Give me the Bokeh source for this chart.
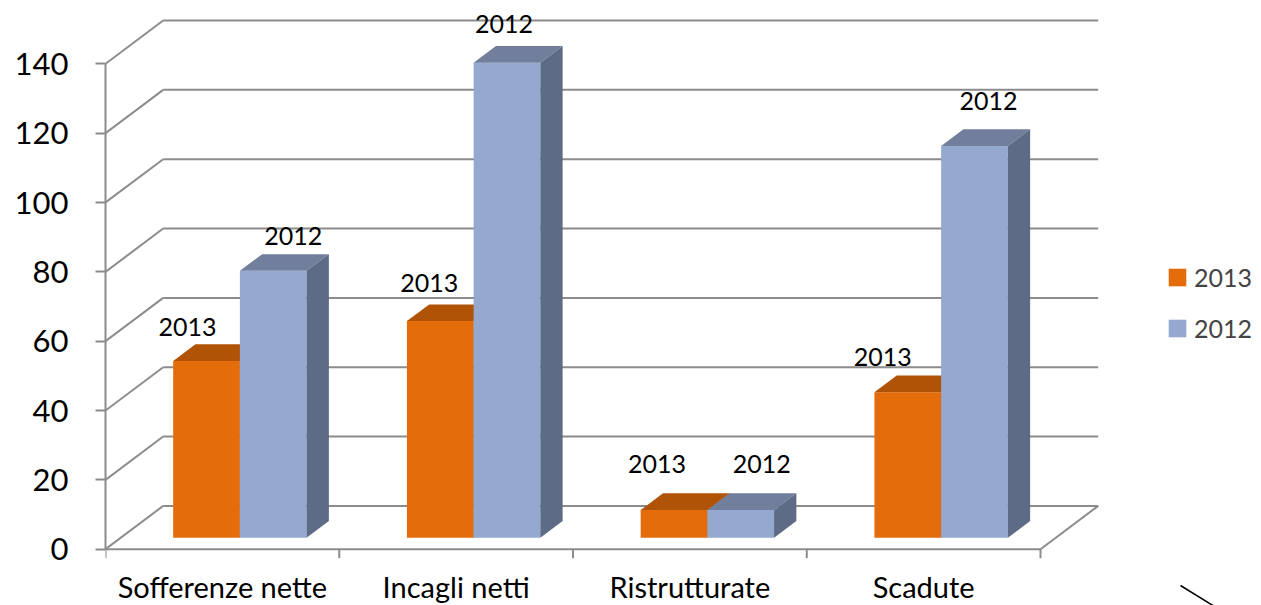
from bokeh.plotting import figure
from bokeh.models import Range1d, LinearAxis, FixedTicker, Legend, LegendItem, ColumnDataSource
from bokeh.core.properties import value
from bokeh.embed import file_html
from bokeh.resources import INLINE
import numpy as np

# ---------------- data ----------------
categories = ["Sofferenze nette", "Incagli netti", "Ristrutturate", "Scadute"]
series_names = ["2013", "2012"]
values_2013 = [51, 62.5, 8, 42]
values_2012 = [77, 137, 8, 113]
y_ticks = [0, 20, 40, 60, 80, 100, 120, 140]

# ---------------- layout / style ----------------
W, H = 1261, 605
LEFT = 105           # frame left (px)
CAT_PX = 233.75      # px per category
Y_PX = 3.467         # px per value unit
ZERO_PX = 548.7      # px from top of figure where value 0 sits
FONT = "Lato"
GRID_COLOR = "#8c8c8c"

# 3D wall depth (in data units)
DX = 57.7 / CAT_PX
DY = 43.3 / Y_PX
# bar geometry
BAR_W = 66.7 / CAT_PX
BAR_SHIFT = 17.5 / CAT_PX
BASE = 11.4 / Y_PX
BDX = 22.3 / CAT_PX
BDY = 16.7 / Y_PX

FRONT = ["#E46C0A", "#95A9D0"]
TOP = ["#B05306", "#717F9D"]
SIDE = ["#9A4808", "#5D6B86"]

# label nudges (px) for the data labels: x offset, baseline offset above top
label_dx = [[-19, -11, -17, -25], [20, -3, 21, 14]]
label_dy = [[-34, -38, -45.6, -35.3], [-34.7, -38.6, -46, -44.7]]

n = len(categories)
x_end = (W - LEFT) / CAT_PX
y_start = -(H - ZERO_PX) / Y_PX
y_end = ZERO_PX / Y_PX

p = figure(width=W, height=H, output_backend="svg", toolbar_location=None,
           x_axis_type=None, y_axis_type=None,
           x_range=Range1d(0, x_end), y_range=Range1d(y_start, y_end),
           min_border_left=LEFT, min_border_right=0, min_border_top=0, min_border_bottom=0)
p.outline_line_color = None
p.background_fill_color = "white"
p.border_fill_color = "white"

# y axis
yax = LinearAxis(ticker=FixedTicker(ticks=y_ticks), bounds=(0, max(y_ticks)))
yax.axis_line_color = GRID_COLOR
yax.axis_line_width = 2
yax.major_tick_line_color = GRID_COLOR
yax.major_tick_line_width = 2
yax.major_tick_out = 10
yax.major_tick_in = 0
yax.minor_tick_line_color = None
yax.major_label_standoff = 27
yax.major_label_text_font = FONT
yax.major_label_text_font_size = "31px"
yax.major_label_text_color = "black"
p.add_layout(yax, "left")

yt = np.array(y_ticks, dtype=float)
# back wall gridlines
p.segment(x0=np.full_like(yt, DX), y0=yt + DY, x1=np.full_like(yt, n + DX), y1=yt + DY,
          line_color=GRID_COLOR, line_width=2)
# left side wall diagonals
p.segment(x0=np.zeros_like(yt), y0=yt, x1=np.full_like(yt, DX), y1=yt + DY,
          line_color=GRID_COLOR, line_width=2)
# floor front and right edges
p.segment(x0=[0, n], y0=[0, 0], x1=[n, n + DX], y1=[0, DY], line_color=GRID_COLOR, line_width=2)
# category ticks
cx = np.arange(n + 1, dtype=float)
p.segment(x0=cx, y0=np.zeros_like(cx), x1=cx, y1=np.full_like(cx, -9 / Y_PX),
          line_color=GRID_COLOR, line_width=2)

# bars
front_renderers = []
for s, vals in enumerate([values_2013, values_2012]):
    v = np.array(vals, dtype=float)
    left = np.arange(n) + 0.5 + BAR_SHIFT - BAR_W + s * BAR_W
    right = left + BAR_W
    top = BASE + v
    fr = p.quad(left=left, right=right, bottom=np.full(n, BASE), top=top,
                fill_color=FRONT[s], line_color=None)
    front_renderers.append(fr)
    top_xs = [[l, r, r + BDX, l + BDX] for l, r in zip(left, right)]
    top_ys = [[t, t, t + BDY, t + BDY] for t in top]
    p.patches(xs=top_xs, ys=top_ys, fill_color=TOP[s], line_color=None)
    side_xs = [[r, r, r + BDX, r + BDX] for r in right]
    side_ys = [[BASE, t, t + BDY, BASE + BDY] for t in top]
    p.patches(xs=side_xs, ys=side_ys, fill_color=SIDE[s], line_color=None)

# data labels
for s, vals in enumerate([values_2013, values_2012]):
    v = np.array(vals, dtype=float)
    left = np.arange(n) + 0.5 + BAR_SHIFT - BAR_W + s * BAR_W
    src = ColumnDataSource(dict(x=left + BAR_W / 2, y=BASE + v, t=[series_names[s]] * n,
                                dx=label_dx[s], dy=label_dy[s]))
    p.text(x="x", y="y", text="t", x_offset="dx", y_offset="dy", source=src,
           text_font=value(FONT), text_font_size="25px", text_color="black",
           text_align="center", text_baseline="alphabetic")

# category labels
csrc = ColumnDataSource(dict(x=np.arange(n) + 0.5, y=np.zeros(n), t=categories))
p.text(x="x", y="y", text="t", source=csrc, y_offset=37,
       text_font=value(FONT), text_font_size="29px", text_color="black",
       text_align="center", text_baseline="alphabetic")

# stray diagonal stroke in the lower right corner
p.segment(x0=[(1180 - LEFT) / CAT_PX], y0=[(ZERO_PX - 585) / Y_PX],
          x1=[(1214 - LEFT) / CAT_PX], y1=[(ZERO_PX - 606) / Y_PX],
          line_color="black", line_width=1.5)

legend = Legend(items=[LegendItem(label=series_names[0], renderers=[front_renderers[0]]),
                       LegendItem(label=series_names[1], renderers=[front_renderers[1]])],
                location=(1061, 262), orientation="vertical")
legend.glyph_width = 22
legend.glyph_height = 22
legend.label_text_font = FONT
legend.label_text_font_size = "25px"
legend.label_standoff = 6
legend.padding = 0
legend.spacing = 21
legend.border_line_color = None
legend.background_fill_alpha = 0
legend.label_height = 22
p.add_layout(legend)

open("out.html", "w").write(file_html(p, INLINE))
